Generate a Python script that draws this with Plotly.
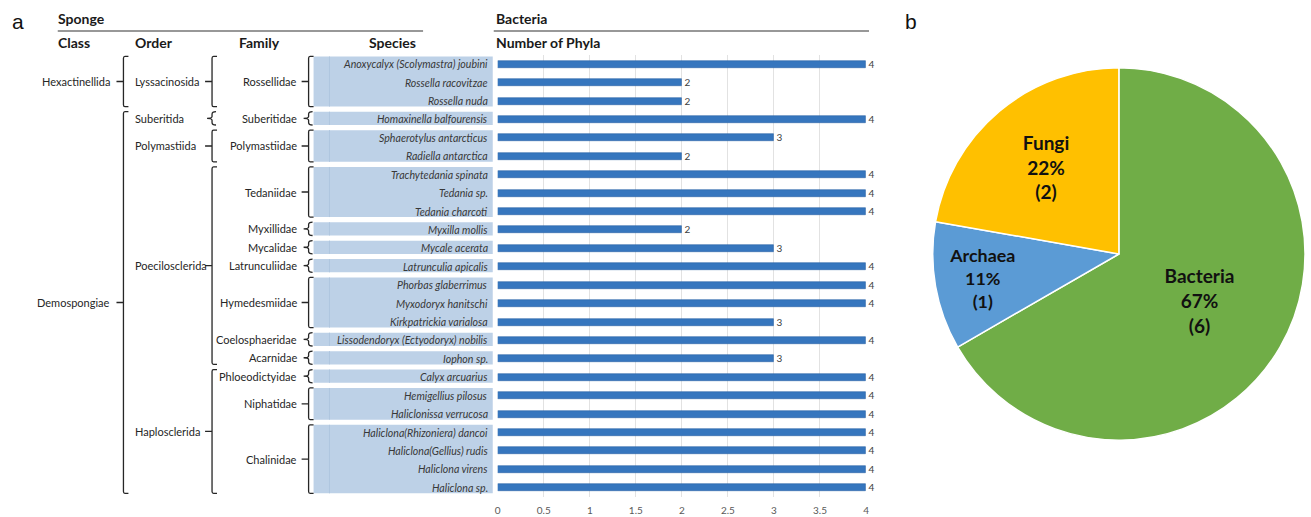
import plotly.graph_objects as go

W, H = 1311, 517

# ---- data -------------------------------------------------------------
species = [
    "Anoxycalyx (Scolymastra) joubini", "Rossella racovitzae", "Rossella nuda",
    "Homaxinella balfourensis", "Sphaerotylus antarcticus", "Radiella antarctica",
    "Trachytedania spinata", "Tedania sp.", "Tedania charcoti", "Myxilla mollis",
    "Mycale acerata", "Latrunculia apicalis", "Phorbas glaberrimus",
    "Myxodoryx hanitschi", "Kirkpatrickia varialosa",
    "Lissodendoryx (Ectyodoryx) nobilis", "Iophon sp.", "Calyx arcuarius",
    "Hemigellius pilosus", "Haliclonissa verrucosa",
    "Haliclona(Rhizoniera) dancoi", "Haliclona(Gellius) rudis",
    "Haliclona virens", "Haliclona sp.",
]
bacterial_phyla = [4, 2, 2, 4, 3, 2, 4, 4, 4, 2, 3, 4, 4, 4, 3, 4, 3, 4, 4, 4, 4, 4, 4, 4]

species_family = [
    "Rossellidae", "Rossellidae", "Rossellidae", "Suberitidae",
    "Polymastiidae", "Polymastiidae", "Tedaniidae", "Tedaniidae", "Tedaniidae",
    "Myxillidae", "Mycalidae", "Latrunculiidae", "Hymedesmiidae",
    "Hymedesmiidae", "Hymedesmiidae", "Coelosphaeridae", "Acarnidae",
    "Phloeodictyidae", "Niphatidae", "Niphatidae", "Chalinidae", "Chalinidae",
    "Chalinidae", "Chalinidae",
]
family_order = {
    "Rossellidae": "Lyssacinosida", "Suberitidae": "Suberitida",
    "Polymastiidae": "Polymastiida", "Tedaniidae": "Poecilosclerida",
    "Myxillidae": "Poecilosclerida", "Mycalidae": "Poecilosclerida",
    "Latrunculiidae": "Poecilosclerida", "Hymedesmiidae": "Poecilosclerida",
    "Coelosphaeridae": "Poecilosclerida", "Acarnidae": "Poecilosclerida",
    "Phloeodictyidae": "Haplosclerida", "Niphatidae": "Haplosclerida",
    "Chalinidae": "Haplosclerida",
}
order_class = {
    "Lyssacinosida": "Hexactinellida", "Suberitida": "Demospongiae",
    "Polymastiida": "Demospongiae", "Poecilosclerida": "Demospongiae",
    "Haplosclerida": "Demospongiae",
}

domains = ["Bacteria", "Archaea", "Fungi"]
domain_counts = [6, 1, 2]
domain_colors = ["#70AD47", "#5B9BD5", "#FFC000"]

x_ticks = [0, 0.5, 1, 1.5, 2, 2.5, 3, 3.5, 4]

# ---- helpers ------------------------------------------------------------
def px(x):
    return x / W


def py(y):
    return 1 - y / H


rows = list(range(1, len(species) + 1))


def spans(keys):
    """Consecutive runs of equal keys -> (key, first_row, last_row)."""
    out = []
    for r, k in zip(rows, keys):
        if out and out[-1][0] == k:
            out[-1][2] = r
        else:
            out.append([k, r, r])
    return out


fam_spans = spans(species_family)
ord_spans = spans([family_order[f] for f in species_family])
cls_spans = spans([order_class[family_order[f]] for f in species_family])

TOP_PAD, BOT_PAD = 0.42, 0.30
INK = "#262626"


def bracket_path(xb, r0, r1):
    """Square bracket opening right with a short tick on its left side."""
    m = (r0 + r1) / 2
    return (f"M {px(xb + 5)},{r0} L {px(xb + 1.5)},{r0} "
            f"Q {px(xb)},{r0} {px(xb)},{r0 + 0.1} "
            f"L {px(xb)},{r1 - 0.1} Q {px(xb)},{r1} {px(xb + 1.5)},{r1} "
            f"L {px(xb + 5)},{r1} M {px(xb)},{m} L {px(xb - 7)},{m}")


def brace_path(xb, r0, r1):
    """Small curly brace opening right."""
    m = (r0 + r1) / 2
    return (f"M {px(xb + 5)},{r0} Q {px(xb + 1)},{r0} {px(xb + 1)},{r0 + 0.14} "
            f"L {px(xb + 1)},{m - 0.1} Q {px(xb + 1)},{m} {px(xb - 4)},{m} "
            f"Q {px(xb + 1)},{m} {px(xb + 1)},{m + 0.1} "
            f"L {px(xb + 1)},{r1 - 0.14} Q {px(xb + 1)},{r1} {px(xb + 5)},{r1}")


fig = go.Figure()

# ---- bar chart: number of bacterial phyla per sponge species -------------
fig.add_trace(go.Bar(
    x=bacterial_phyla, y=rows, orientation="h", width=0.38,
    marker=dict(color="#3676BE", line=dict(color="#2B64A6", width=0.6)),
    text=bacterial_phyla, texttemplate="%{x}", textposition="outside",
    constraintext="none",
    textfont=dict(size=10, color="#404040", family="Lato"),
    cliponaxis=False, showlegend=False, hoverinfo="x+y",
    xaxis="x", yaxis="y",
))

# ---- pie chart: microbial domains ----------------------------------------
fig.add_trace(go.Pie(
    labels=domains, values=domain_counts, sort=False,
    direction="clockwise", rotation=0,
    marker=dict(colors=domain_colors, line=dict(color="white", width=1.5)),
    texttemplate="<b>%{label}<br>%{percent:.0%}<br>(%{value})</b>",
    textposition="inside", insidetextorientation="horizontal",
    textfont=dict(size=19, color="#111111", family="Lato"),
    domain=dict(x=[px(934), px(1308)], y=[py(441), py(67)]),
    showlegend=False,
))

shapes = []
annotations = []

# species boxes, labels and brackets for each taxonomic level
for fam, r0, r1 in fam_spans:
    y0, y1 = r0 - TOP_PAD, r1 + BOT_PAD
    shapes.append(dict(type="rect", xref="paper", yref="y",
                       x0=px(312), x1=px(492), y0=y0, y1=y1,
                       fillcolor="#BDD1E7", line=dict(width=0), layer="below"))
    shapes.append(dict(type="line", xref="paper", yref="y",
                       x0=px(328), x1=px(328), y0=y0, y1=y1,
                       line=dict(color="#B0C6DF", width=1), layer="below"))
    path = brace_path(306, y0, y1) if r0 == r1 else bracket_path(307, y0, y1)
    shapes.append(dict(type="path", xref="paper", yref="y", path=path,
                       line=dict(color=INK, width=1.3)))
    annotations.append(dict(x=px(297), y=(y0 + y1) / 2, xref="paper", yref="y",
                            text=fam, showarrow=False, xanchor="right",
                            font=dict(size=11, color=INK)))

for order, r0, r1 in ord_spans:
    y0, y1 = r0 - TOP_PAD, r1 + BOT_PAD
    path = brace_path(209, y0, y1) if r0 == r1 else bracket_path(210, y0, y1)
    shapes.append(dict(type="path", xref="paper", yref="y", path=path,
                       line=dict(color=INK, width=1.3)))
    annotations.append(dict(x=px(131), y=(y0 + y1) / 2, xref="paper", yref="y",
                            text=order, showarrow=False, xanchor="left",
                            font=dict(size=11, color=INK)))

for cls, r0, r1 in cls_spans:
    y0, y1 = r0 - TOP_PAD, r1 + BOT_PAD
    shapes.append(dict(type="path", xref="paper", yref="y",
                       path=bracket_path(121, y0, y1),
                       line=dict(color=INK, width=1.3)))
    annotations.append(dict(x=px(109), y=(y0 + y1) / 2, xref="paper", yref="y",
                            text=cls, showarrow=False, xanchor="right",
                            font=dict(size=11, color=INK)))

for r, name in zip(rows, species):
    annotations.append(dict(x=px(489), y=r, xref="paper", yref="y",
                            text=f"<i>{name}</i>", showarrow=False,
                            xanchor="right",
                            font=dict(size=10.6, color="#383838")))

# column headers and rules
headers = [("Sponge", 53, 18), ("Class", 53, 43), ("Order", 131, 43),
           ("Family", 235, 43), ("Species", 366, 43),
           ("Bacteria", 493, 18), ("Number of Phyla", 493, 43)]
for txt, x, y in headers:
    annotations.append(dict(x=px(x), y=py(y), xref="paper", yref="paper",
                            text=f"<b>{txt}</b>", showarrow=False,
                            xanchor="left", yanchor="middle",
                            font=dict(size=14, color="#1a1a1a")))
for x0, x1 in [(55, 422), (493, 870)]:
    shapes.append(dict(type="line", xref="paper", yref="paper",
                       x0=px(x0), x1=px(x1), y0=py(31), y1=py(31),
                       line=dict(color="#333333", width=1.2)))

# panel letters
for txt, x, y in [("a", 7, 21), ("b", 904, 22)]:
    annotations.append(dict(x=px(x), y=py(y), xref="paper", yref="paper",
                            text=txt, showarrow=False, xanchor="left",
                            yanchor="middle",
                            font=dict(size=21, color="#111111",
                                      family="Liberation Sans")))

fig.update_layout(
    width=W, height=H,
    margin=dict(l=0, r=0, t=0, b=0),
    paper_bgcolor="white", plot_bgcolor="white",
    font=dict(family="Lato", color=INK),
    showlegend=False,
    bargap=0,
    xaxis=dict(domain=[px(497), px(867)], range=[0, 4],
               tickvals=x_ticks, ticktext=[f"{v:g}" for v in x_ticks],
               showgrid=True, gridcolor="#E2E2E2", gridwidth=1,
               zeroline=False, showline=False, ticks="",
               tickfont=dict(size=10, color="#595959"),
               ticklabelstandoff=6, fixedrange=True),
    yaxis=dict(domain=[py(497), py(55)], range=[len(species) + 0.5, 0.5],
               showgrid=False, zeroline=False, showticklabels=False,
               ticks="", fixedrange=True),
    shapes=shapes,
    annotations=annotations,
)

fig.write_html("out.html")
